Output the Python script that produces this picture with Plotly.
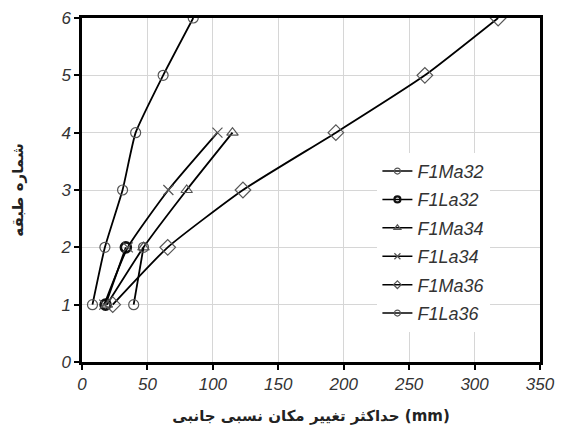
import plotly.graph_objects as go

series_names = ["F1Ma32", "F1La32", "F1Ma34", "F1La34", "F1Ma36", "F1La36"]

f1ma32_x = [8, 17.5, 31, 41, 62, 85]
f1ma32_y = [1, 2, 3, 4, 5, 6]

f1la32_x = [18, 33.5]
f1la32_y = [1, 2]

f1ma34_x = [19, 47, 80, 115]
f1ma34_y = [1, 2, 3, 4]

f1la34_x = [17, 35, 66, 103.5]
f1la34_y = [1, 2, 3, 4]

f1ma36_x = [23.5, 65.5, 123, 194, 262, 318]
f1ma36_y = [1, 2, 3, 4, 5, 6]

f1la36_x = [39.5, 47]
f1la36_y = [1, 2]

x_ticks = [0, 50, 100, 150, 200, 250, 300, 350]
y_ticks = [0, 1, 2, 3, 4, 5, 6]

data = [
    (f1ma32_x, f1ma32_y, "circle-open", 10, 1.2, "#555", 1.2),
    (f1la32_x, f1la32_y, "circle-open", 10, 2.6, "#111", 2.2),
    (f1ma34_x, f1ma34_y, "triangle-up-open", 10, 1.2, "#555", 1.2),
    (f1la34_x, f1la34_y, "x-thin-open", 10, 1.2, "#555", 1.2),
    (f1ma36_x, f1ma36_y, "diamond-open", 12, 1.2, "#555", 1.2),
    (f1la36_x, f1la36_y, "circle-open", 10, 1.2, "#555", 1.2),
]

fig = go.Figure()
for name, (xs, ys, sym, sz, mlw, mc, lmlw) in zip(series_names, data):
    fig.add_trace(go.Scatter(
        x=xs, y=ys, name=name, mode="lines+markers", showlegend=False,
        line=dict(color="black", width=1.8, shape="spline", smoothing=0.5),
        marker=dict(symbol=sym, size=sz, color=mc, line=dict(width=mlw, color=mc)),
    ))
# legend-only entries with small markers, like the reference legend
for name, (xs, ys, sym, sz, mlw, mc, lmlw) in zip(series_names, data):
    fig.add_trace(go.Scatter(
        x=[None], y=[None], name="<i>" + name + "</i>", mode="lines+markers",
        legendgroup=name, showlegend=True,
        line=dict(color="black", width=1.5),
        marker=dict(symbol=sym, size=6, color=mc, line=dict(width=lmlw, color=mc)),
    ))

tickfont = dict(family="Liberation Sans, Arial", size=17, color="#333")

fig.update_layout(
    width=563, height=437,
    margin=dict(l=74, r=31, t=10, b=83),
    paper_bgcolor="white", plot_bgcolor="white",
    showlegend=True,
    legend=dict(
        x=0.645, y=0.608, xanchor="left", yanchor="top",
        bgcolor="white", borderwidth=0,
        font=dict(family="Liberation Sans, Arial", size=18, color="#333"),
        tracegroupgap=2, traceorder="grouped",
    ),
    xaxis=dict(
        range=[0, 350], tickvals=x_ticks, ticktext=["<i>%d</i>" % v for v in x_ticks],
        showgrid=True, gridcolor="#d6d6d6", gridwidth=1,
        showline=True, linecolor="black", linewidth=2.5, mirror=True,
        ticks="outside", ticklen=5, tickwidth=2, tickcolor="black",
        zeroline=False, tickfont=tickfont, automargin=False,
        title=dict(text="<b>حداکثر تغییر مکان نسبی جانبی (mm)</b>",
                   font=dict(family="DejaVu Sans, Noto Sans", size=15, color="#222"),
                   standoff=18),
    ),
    yaxis=dict(
        range=[0, 6], tickvals=y_ticks, ticktext=["<i>%d</i>" % v for v in y_ticks],
        showgrid=True, gridcolor="#d6d6d6", gridwidth=1,
        showline=True, linecolor="black", linewidth=2.5, mirror=True,
        ticks="outside", ticklen=5, tickwidth=2, tickcolor="black",
        zeroline=False, tickfont=tickfont, automargin=False,
        title=dict(text="<b>شماره طبقه</b>",
                   font=dict(family="DejaVu Sans, Noto Sans", size=15, color="#222"),
                   standoff=34),
    ),
)

fig.write_html("out.html")
